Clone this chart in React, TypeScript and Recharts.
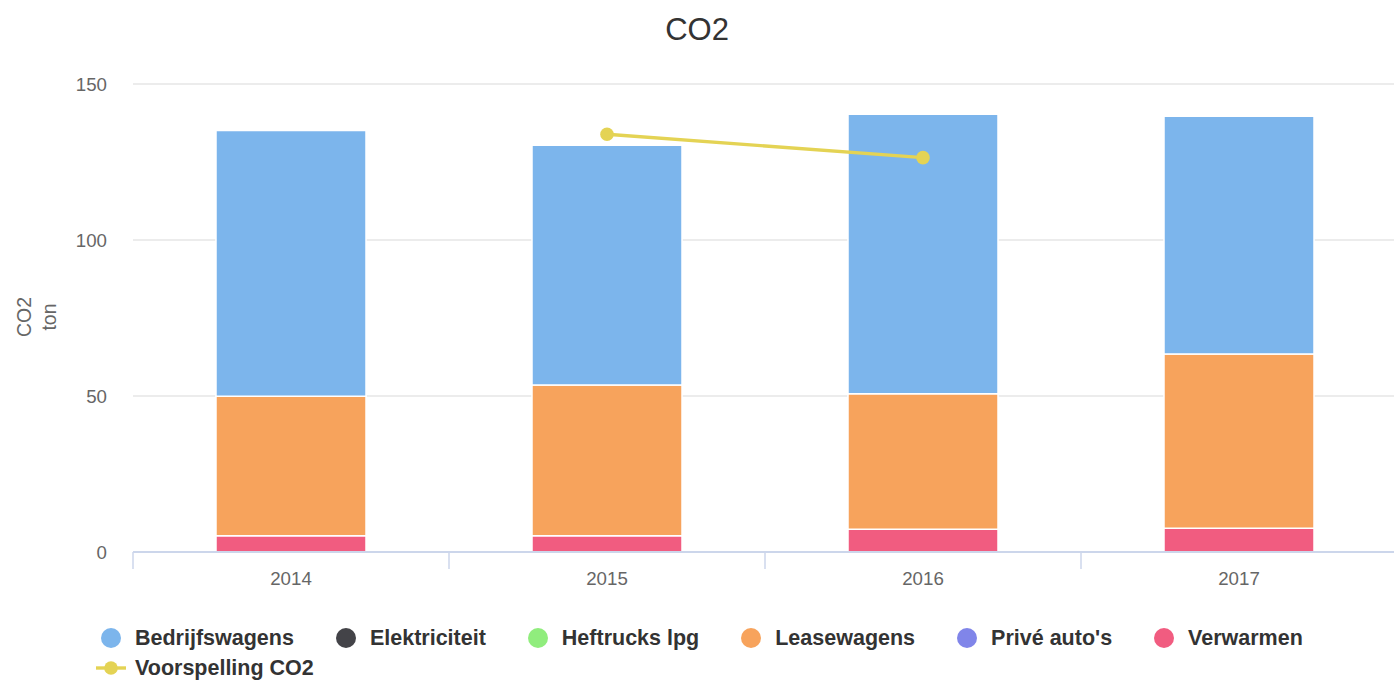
import React from 'react';
import { ComposedChart, Bar, Line, XAxis, YAxis, CartesianGrid } from 'recharts';

const years = ['2014', '2015', '2016', '2017'];
const bedrijfswagens = [85.2, 76.9, 89.6, 76.2];
const elektriciteit = [0, 0, 0, 0];
const heftrucks = [0, 0, 0, 0];
const leasewagens = [44.7, 48.3, 43.4, 55.9];
const priveAutos = [0, 0, 0, 0];
const verwarmen = [5.2, 5.2, 7.3, 7.6];
const voorspelling = [null, 133.9, 126.4, null];
const yTicks = [0, 50, 100, 150];

const data = years.map((year, i) => ({
  year,
  bedrijfswagens: bedrijfswagens[i],
  elektriciteit: elektriciteit[i],
  heftrucks: heftrucks[i],
  leasewagens: leasewagens[i],
  priveAutos: priveAutos[i],
  verwarmen: verwarmen[i],
  voorspelling: voorspelling[i],
}));

const legendItems = [
  { name: 'Bedrijfswagens', color: '#7cb5ec' },
  { name: 'Elektriciteit', color: '#434348' },
  { name: 'Heftrucks lpg', color: '#90ed7d' },
  { name: 'Leasewagens', color: '#f7a35c' },
  { name: "Privé auto's", color: '#8085e9' },
  { name: 'Verwarmen', color: '#f15c80' },
  { name: 'Voorspelling CO2', color: '#e4d354', line: true },
];

const font = '"Liberation Sans", Arial, Helvetica, sans-serif';

function XTick(props: any) {
  const { x, y, payload, index, width } = props;
  const bw = (width || 1264) / years.length;
  const left = x - bw / 2;
  return (
    <g>
      <line x1={left} x2={left} y1={y} y2={y + 17} stroke="#ccd6eb" strokeWidth={1.5} />
      {index === years.length - 1 && (
        <line x1={x + bw / 2} x2={x + bw / 2} y1={y} y2={y + 17} stroke="#ccd6eb" strokeWidth={1.5} />
      )}
      <text x={x} y={y + 33} textAnchor="middle" fill="#666666" fontSize={18.7} fontFamily={font}>
        {payload.value}
      </text>
    </g>
  );
}

function YTitle() {
  return (
    <text transform="rotate(-90, 31, 317)" x={31} y={317} textAnchor="middle" fill="#666666" fontSize={19.5} fontFamily={font}>
      <tspan x={31} dy={0}>CO2</tspan>
      <tspan x={31} dy={25}>ton</tspan>
    </text>
  );
}

export default function App() {
  return (
    <div style={{ position: 'absolute', left: 0, top: 0, width: 1394, height: 681, background: '#fff', fontFamily: font, overflow: 'hidden' }}>
      <div style={{ position: 'absolute', top: 14, left: 0, width: 1394, textAlign: 'center', fontSize: 31, lineHeight: '31px', color: '#333333' }}>
        CO2
      </div>
      <ComposedChart width={1394} height={681} data={data} margin={{ top: 84, right: -3, left: 73, bottom: 99 }}>
        <CartesianGrid vertical={false} stroke="#e6e6e6" strokeWidth={1.5} />
        <XAxis
          dataKey="year"
          height={30}
          tickLine={false}
          tickSize={0}
          tickMargin={0}
          axisLine={{ stroke: '#ccd6eb', strokeWidth: 2 }}
          tick={<XTick />}
          interval={0}
        />
        <YAxis
          width={60}
          domain={[0, 150]}
          ticks={yTicks}
          axisLine={false}
          tickLine={false}
          tickMargin={20}
          tick={{ fill: '#666666', fontSize: 18.7, fontFamily: font }}
          label={<YTitle />}
        />
        <Bar dataKey="verwarmen" stackId="a" fill="#f15c80" stroke="#ffffff" strokeWidth={1.5} barSize={150} isAnimationActive={false} />
        <Bar dataKey="priveAutos" stackId="a" fill="#8085e9" stroke="#ffffff" strokeWidth={1.5} barSize={150} isAnimationActive={false} />
        <Bar dataKey="leasewagens" stackId="a" fill="#f7a35c" stroke="#ffffff" strokeWidth={1.5} barSize={150} isAnimationActive={false} />
        <Bar dataKey="heftrucks" stackId="a" fill="#90ed7d" stroke="#ffffff" strokeWidth={1.5} barSize={150} isAnimationActive={false} />
        <Bar dataKey="elektriciteit" stackId="a" fill="#434348" stroke="#ffffff" strokeWidth={1.5} barSize={150} isAnimationActive={false} />
        <Bar dataKey="bedrijfswagens" stackId="a" fill="#7cb5ec" stroke="#ffffff" strokeWidth={1.5} barSize={150} isAnimationActive={false} />
        <Line
          dataKey="voorspelling"
          stroke="#e4d354"
          strokeWidth={3.4}
          dot={{ r: 6.8, fill: '#e4d354', stroke: '#e4d354', strokeWidth: 0 }}
          activeDot={false}
          isAnimationActive={false}
        />
      </ComposedChart>
      <div style={{ position: 'absolute', left: 96, top: 623, width: 1290, display: 'flex', flexWrap: 'wrap' }}>
        {legendItems.map((item) => (
          <div key={item.name} style={{ display: 'flex', alignItems: 'center', height: 30, marginRight: 37 }}>
            <svg width={30} height={30}>
              {item.line && <line x1={0} x2={30} y1={15} y2={15} stroke={item.color} strokeWidth={3.4} />}
              <circle cx={15} cy={15} r={item.line ? 6.8 : 10} fill={item.color} />
            </svg>
            <span style={{ marginLeft: 9, fontSize: 21.5, fontWeight: 'bold', color: '#333333', whiteSpace: 'nowrap' }}>{item.name}</span>
          </div>
        ))}
      </div>
    </div>
  );
}
